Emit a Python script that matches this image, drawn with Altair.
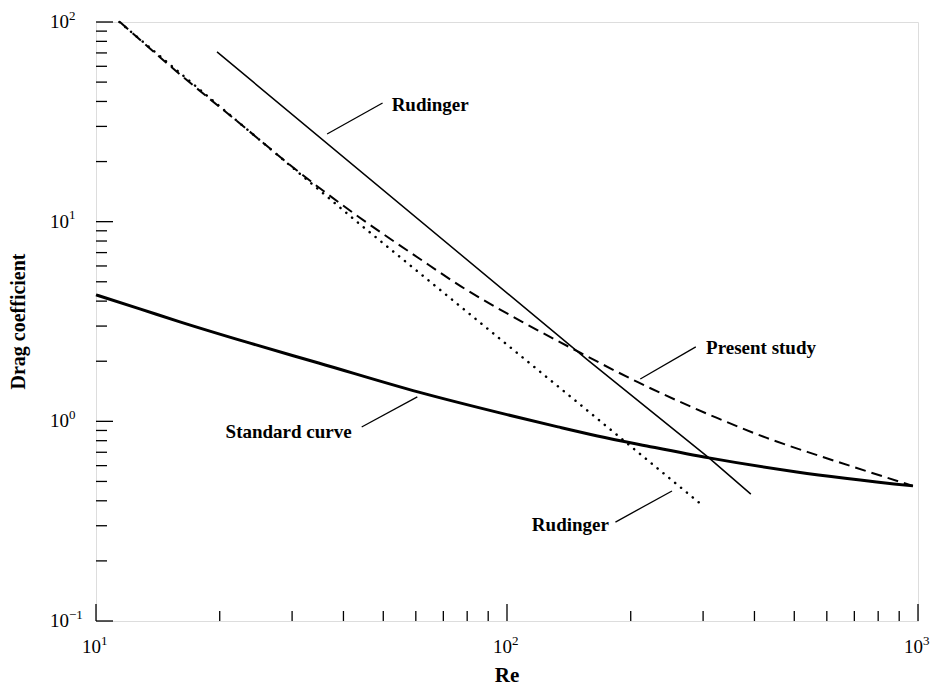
import altair as alt
import pandas as pd

# ---- data ----
std_re = [10, 12.78, 16.0, 23.6, 34.8, 61, 100, 133, 166, 219, 310, 507, 972]
std_cd = [4.30, 3.66, 3.15, 2.47, 1.96, 1.40, 1.08, 0.938, 0.845, 0.753, 0.656, 0.558, 0.475]

pres_re = [11.43, 15.97, 22.32, 31.18, 43.6, 60.9, 79.1, 112.4, 151.1, 207.6, 324.3, 428.5, 566, 748, 972]
pres_cd = [100, 54.9, 31.2, 17.7, 10.56, 6.58, 4.60, 3.04, 2.20, 1.575, 1.04, 0.826, 0.679, 0.564, 0.475]

rud_dot_re = [11.4, 43.5, 146, 300]
rud_dot_cd = [100, 9.85, 1.28, 0.377]

rud_sol_re = [19.7, 157, 310, 392]
rud_sol_cd = [70.8, 2.03, 0.656, 0.432]

# annotations (label text, anchor, leader line start/end)
ann_text = ["Rudinger", "Present study", "Standard curve", "Rudinger"]
ann_x = [52.4, 305, 41.9, 177]
ann_y = [38.4, 2.33, 0.885, 0.303]
ann_align = ["left", "left", "right", "right"]
lead_x1 = [36.5, 211, 60.5, 252]
lead_y1 = [27.5, 1.63, 1.325, 0.448]
lead_x2 = [49.8, 288, 44.3, 183.6]
lead_y2 = [39.3, 2.36, 0.937, 0.313]

x_major = [10, 100, 1000]
x_minor = [20, 30, 40, 50, 60, 70, 80, 90, 200, 300, 400, 500, 600, 700, 800, 900]
y_major = [0.1, 1, 10, 100]
y_minor = [0.2, 0.3, 0.4, 0.5, 0.6, 0.7, 0.8, 0.9, 2, 3, 4, 5, 6, 7, 8, 9,
           20, 30, 40, 50, 60, 70, 80, 90]
x_exp = ["1", "2", "3"]
y_exp = ["\u22121", "0", "1", "2"]

x_title = "Re"
y_title = "Drag coefficient"

X_MIN, X_MAX = 10, 1000
Y_MIN, Y_MAX = 0.1, 100

W, H = 822, 599
FONT = "Liberation Serif"

xscale = alt.Scale(type="log", domain=[X_MIN, X_MAX], nice=False)
yscale = alt.Scale(type="log", domain=[Y_MIN, Y_MAX], nice=False)

std_df = pd.DataFrame({"x": std_re, "y": std_cd})
pres_df = pd.DataFrame({"x": pres_re, "y": pres_cd})
dot_df = pd.DataFrame({"x": rud_dot_re, "y": rud_dot_cd})
sol_df = pd.DataFrame({"x": rud_sol_re, "y": rud_sol_cd})

xaxis = alt.Axis(ticks=False, labels=False, grid=False, domainColor="black",
                 domainWidth=1.3, title=None)
yaxis = alt.Axis(ticks=False, labels=False, grid=False, domainColor="black",
                 domainWidth=1.3, title=None)

std = alt.Chart(std_df).mark_line(color="black", strokeWidth=3, interpolate="monotone").encode(
    x=alt.X("x:Q", scale=xscale, axis=xaxis),
    y=alt.Y("y:Q", scale=yscale, axis=yaxis),
)
pres = alt.Chart(pres_df).mark_line(color="black", strokeWidth=2, strokeDash=[11, 6],
                                     interpolate="monotone").encode(
    x=alt.X("x:Q", axis=None), y=alt.Y("y:Q", axis=None))
dot = alt.Chart(dot_df).mark_line(color="black", strokeWidth=2.5, strokeDash=[0.1, 7.5],
                                   strokeCap="round").encode(
    x=alt.X("x:Q", axis=None), y=alt.Y("y:Q", axis=None))
sol = alt.Chart(sol_df).mark_line(color="black", strokeWidth=1.5).encode(
    x=alt.X("x:Q", axis=None), y=alt.Y("y:Q", axis=None))

# inward ticks (short rules from the axis edge)
xt_maj = pd.DataFrame({"x": x_major})
xt_min = pd.DataFrame({"x": x_minor})
yt_maj = pd.DataFrame({"y": y_major})
yt_min = pd.DataFrame({"y": y_minor})

def vticks(df, size):
    return alt.Chart(df).mark_rule(color="black", strokeWidth=1.3).encode(
        x=alt.X("x:Q", axis=None), y=alt.value(H), y2=alt.value(H - size))

def hticks(df, size):
    return alt.Chart(df).mark_rule(color="black", strokeWidth=1.3).encode(
        y=alt.Y("y:Q", axis=None), x=alt.value(0), x2=alt.value(size))

ticks = [vticks(xt_maj, 17), vticks(xt_min, 10), hticks(yt_maj, 17), hticks(yt_min, 11)]

# tick labels as 10 with superscript exponent
xl = pd.DataFrame({"x": x_major, "y": [Y_MIN] * 3, "base": ["10"] * 3, "exp": x_exp})
yl = pd.DataFrame({"y": y_major, "x": [X_MIN] * 4, "base": ["10"] * 4, "exp": y_exp})

def lab(df, field, size, dx, dy):
    return alt.Chart(df).mark_text(font=FONT, fontSize=size, color="black", align="left",
                                   baseline="middle", xOffset=dx, yOffset=dy).encode(
        x=alt.X("x:Q", axis=None), y=alt.Y("y:Q", axis=None), text=f"{field}:N")

labels = [
    lab(xl, "base", 19, -14, 26), lab(xl, "exp", 13, 5, 20),
    lab(yl, "base", 19, -46, 0), lab(yl, "exp", 13, -27, -6.5),
]

# axis titles
xt_df = pd.DataFrame({"t": [x_title]})
yt_df = pd.DataFrame({"t": [y_title]})
xtitle = alt.Chart(xt_df).mark_text(font=FONT, fontSize=21, fontWeight="bold", color="black",
                                    align="center", baseline="middle").encode(
    x=alt.value(W / 2), y=alt.value(H + 55), text="t:N")
ytitle = alt.Chart(yt_df).mark_text(font=FONT, fontSize=20, fontWeight="bold", color="black",
                                    align="center", baseline="middle", angle=270).encode(
    x=alt.value(-77), y=alt.value(H / 2), text="t:N")

ann_df = pd.DataFrame({"x": ann_x, "y": ann_y, "t": ann_text, "a": ann_align})
lead_df = pd.DataFrame({"x": lead_x1, "y": lead_y1, "x2": lead_x2, "y2": lead_y2})

leads = alt.Chart(lead_df).mark_rule(color="black", strokeWidth=1.3).encode(
    x=alt.X("x:Q", axis=None), y=alt.Y("y:Q", axis=None), x2="x2:Q", y2="y2:Q")

ann_layers = []
for al in ["left", "right"]:
    ann_layers.append(
        alt.Chart(ann_df[ann_df["a"] == al]).mark_text(
            font=FONT, fontSize=19, fontWeight="bold", color="black", align=al,
            baseline="middle").encode(
            x=alt.X("x:Q", axis=None), y=alt.Y("y:Q", axis=None), text="t:N"))

chart = alt.layer(std, pres, dot, sol, *ticks, *labels, xtitle, ytitle, leads,
                  *ann_layers).properties(
    width=W, height=H,
    autosize=alt.AutoSizeParams(type="none"),
    padding={"left": 88, "top": 14, "right": 13, "bottom": 66},
).configure_view(stroke=None).configure(background="white")

chart.save("out.html", embed_options={"renderer": "svg", "actions": False})
